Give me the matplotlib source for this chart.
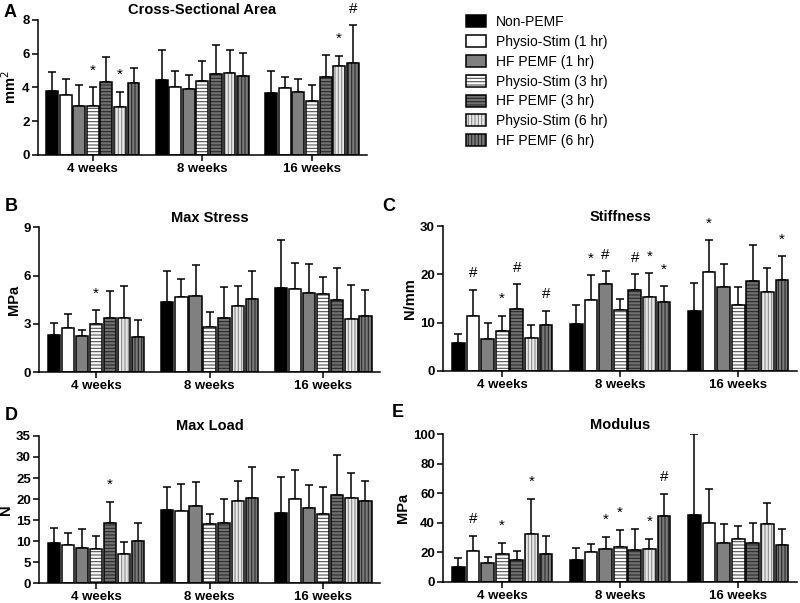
import matplotlib
matplotlib.use('Agg')
import matplotlib.pyplot as plt
import numpy as np

plt.rcParams['font.family'] = ['Liberation Sans', 'DejaVu Sans']
plt.rcParams['hatch.linewidth'] = 0.8

groups = ['4 weeks', '8 weeks', '16 weeks']
treatments = ['Non-PEMF', 'Physio-Stim (1 hr)', 'HF PEMF (1 hr)', 'Physio-Stim (3 hr)',
              'HF PEMF (3 hr)', 'Physio-Stim (6 hr)', 'HF PEMF (6 hr)']

# A - cross sectional area (mm2), rows = 4, 8, 16 weeks
csa_mean = [[3.8, 3.55, 2.9, 2.9, 4.35, 2.83, 4.25],
            [4.45, 4.05, 3.89, 4.39, 4.8, 4.88, 4.68],
            [3.66, 3.95, 3.75, 3.2, 4.6, 5.24, 5.43]]
csa_sd = [[1.1, 0.95, 1.25, 1.1, 1.48, 0.92, 0.89],
          [1.77, 0.95, 0.85, 1.2, 1.72, 1.34, 1.35],
          [1.34, 0.69, 0.74, 0.95, 1.31, 0.65, 2.24]]
csa_sig = [['', '', '', '*', '', '*', ''],
           ['', '', '', '', '', '', ''],
           ['', '', '', '', '', '*', '#']]

# B - max stress (MPa)
stress_mean = [[2.32, 2.73, 2.22, 3.0, 3.37, 3.37, 2.17],
               [4.35, 4.66, 4.74, 2.8, 3.35, 4.1, 4.53],
               [5.22, 5.18, 4.91, 4.87, 4.45, 3.31, 3.46]]
stress_sd = [[0.74, 0.85, 0.41, 0.83, 1.66, 2.01, 1.08],
             [1.96, 1.14, 1.89, 0.93, 1.93, 1.24, 1.74],
             [3.02, 1.59, 1.78, 1.03, 2.03, 2.11, 1.65]]
stress_sig = [['', '', '', '*', '', '', ''],
              ['', '', '', '', '', '', ''],
              ['', '', '', '', '', '', '']]

# C - stiffness (N/mm)
stiff_mean = [[5.67, 11.33, 6.7, 8.29, 12.92, 6.91, 9.6],
              [9.67, 14.65, 17.9, 12.7, 16.72, 15.34, 14.3],
              [12.37, 20.39, 17.42, 13.61, 18.59, 16.38, 18.8]]
stiff_sd = [[2.07, 5.53, 3.25, 3.11, 4.98, 2.56, 2.84],
            [3.88, 5.18, 2.76, 2.09, 3.32, 4.84, 3.25],
            [5.87, 6.7, 4.69, 3.67, 7.46, 5.04, 4.97]]
stiff_sig = [['', '#', '', '*', '#', '', '#'],
             ['', '*', '#', '', '#', '*', '*'],
             ['', '*', '', '', '', '', '*']]

# D - max load (N)
load_mean = [[9.63, 8.99, 8.43, 8.19, 14.32, 6.84, 10.02],
             [17.34, 17.18, 18.38, 14.16, 14.32, 19.49, 20.13],
             [16.71, 19.97, 17.9, 16.55, 21.0, 20.13, 19.49]]
load_sd = [[3.5, 3.02, 4.37, 3.03, 5.01, 2.95, 4.38],
           [5.57, 6.29, 5.57, 2.23, 5.65, 4.7, 7.57],
           [8.43, 6.92, 5.41, 6.36, 9.39, 5.97, 4.85]]
load_sig = [['', '', '', '', '*', '', ''],
            ['', '', '', '', '', '', ''],
            ['', '', '', '', '', '', '']]

# E - modulus (MPa)
mod_mean = [[9.9, 21.2, 12.6, 19.0, 14.9, 32.5, 18.7],
            [14.9, 20.5, 22.3, 23.9, 21.9, 22.3, 44.9],
            [45.4, 40.2, 26.6, 28.7, 26.6, 39.1, 24.8]]
mod_sd = [[6.1, 10.2, 4.1, 7.6, 6.1, 23.7, 12.5],
          [8.1, 5.0, 8.4, 11.3, 14.2, 7.0, 14.5],
          [54.6, 23.0, 12.9, 9.0, 13.1, 14.6, 11.3]]
mod_sig = [['', '#', '', '*', '', '*', ''],
           ['', '', '*', '*', '', '*', '#'],
           ['', '', '', '', '', '', '']]

# bar look per treatment
faces = ['black', 'white', '#808080', 'white', '#707070', '#e8e8e8', '#7a7a7a']
hatches = ['', '', '', '-----', '-----', '|||||', '|||||']
hatch_cols = ['black', 'black', 'black', '#505050', '#2a2a2a', '#8a8a8a', '#2a2a2a']

slot = 0.124
width = 0.108


def draw_panel(ax, mean, sd, sig, title, ylabel, yticks):
    mean = np.array(mean)
    sd = np.array(sd)
    xg = np.arange(len(groups))
    handles = []
    for i in range(len(treatments)):
        x = xg + (i - 3) * slot
        h1 = ax.bar(x, mean[:, i], width, color=faces[i], edgecolor=hatch_cols[i],
                    hatch=hatches[i], linewidth=0, zorder=2)
        h2 = ax.bar(x, mean[:, i], width, fill=False, edgecolor='black', linewidth=1.1, zorder=3)
        ax.errorbar(x, mean[:, i], yerr=[np.zeros(len(groups)), sd[:, i]], fmt='none',
                    ecolor='black', elinewidth=1.1, capsize=3, capthick=1.1, zorder=1)
        for g in range(len(groups)):
            if sig[g][i]:
                ax.annotate(sig[g][i], (x[g], mean[g, i] + sd[g, i]), xytext=(0, 12),
                            textcoords='offset points', ha='center', va='center',
                            fontsize=11, annotation_clip=False)
        handles.append((h1[0], h2[0]))
    ax.set_xlim(-0.5, 2.5)
    ax.set_ylim(0, yticks[-1])
    ax.set_yticks(yticks)
    ax.set_xticks(xg)
    ax.set_xticklabels(groups, fontweight='bold', fontsize=9.5)
    for lab in ax.get_yticklabels():
        lab.set_fontweight('bold')
        lab.set_fontsize(9.5)
    ax.set_ylabel(ylabel, fontweight='bold', fontsize=10.5, labelpad=2)
    ax.set_title(title, fontweight='bold', fontsize=10.5, pad=4)
    ax.spines['top'].set_visible(False)
    ax.spines['right'].set_visible(False)
    ax.spines['left'].set_linewidth(1.1)
    ax.spines['bottom'].set_linewidth(1.1)
    ax.tick_params(direction='out', length=4, width=1.1, pad=2)
    return handles


fig = plt.figure(figsize=(8, 6.03), dpi=100)
axA = fig.add_axes([0.0475, 0.743, 0.411, 0.224])
axB = fig.add_axes([0.049, 0.383, 0.426, 0.240])
axC = fig.add_axes([0.554, 0.385, 0.4425, 0.240])
axD = fig.add_axes([0.049, 0.033, 0.426, 0.244])
axE = fig.add_axes([0.554, 0.035, 0.4425, 0.245])

handles = draw_panel(axA, csa_mean, csa_sd, csa_sig, 'Cross-Sectional Area', 'mm$^2$', [0, 2, 4, 6, 8])
draw_panel(axB, stress_mean, stress_sd, stress_sig, 'Max Stress', 'MPa', [0, 3, 6, 9])
draw_panel(axC, stiff_mean, stiff_sd, stiff_sig, 'Stiffness', 'N/mm', [0, 10, 20, 30])
draw_panel(axD, load_mean, load_sd, load_sig, 'Max Load', 'N', [0, 5, 10, 15, 20, 25, 30, 35])
draw_panel(axE, mod_mean, mod_sd, mod_sig, 'Modulus', 'MPa', [0, 20, 40, 60, 80, 100])

fig.legend(handles, treatments, loc='upper left', bbox_to_anchor=(0.583, 0.975), frameon=False,
           fontsize=10, handlelength=1.4, handleheight=0.95, handletextpad=0.7,
           labelspacing=0.42, borderpad=0, borderaxespad=0)

# panel letters
fig.text(0.004, 0.993, 'A', fontsize=13, fontweight='bold', va='top')
fig.text(0.006, 0.672, 'B', fontsize=13, fontweight='bold', va='top')
fig.text(0.478, 0.672, 'C', fontsize=13, fontweight='bold', va='top')
fig.text(0.006, 0.325, 'D', fontsize=13, fontweight='bold', va='top')
fig.text(0.490, 0.330, 'E', fontsize=13, fontweight='bold', va='top')

fig.savefig('out.png', dpi=100)
